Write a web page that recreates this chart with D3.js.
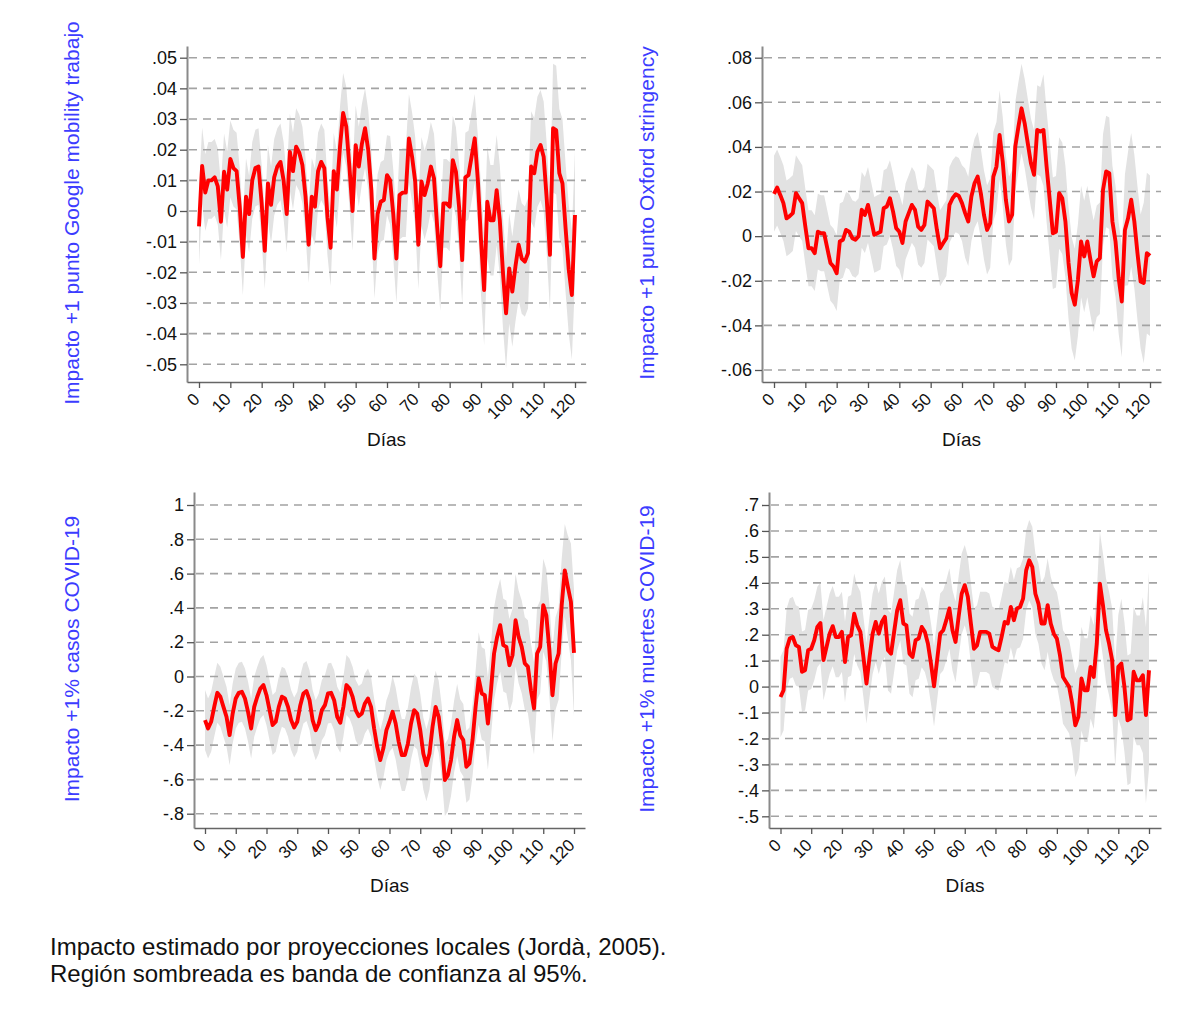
<!DOCTYPE html>
<html><head><meta charset="utf-8">
<script src="https://cdn.jsdelivr.net/npm/d3@7"></script>
<style>body{margin:0;background:#fff}svg{display:block}</style>
</head><body>
<svg id="chart" width="1193" height="1014"></svg>
<script>
// ---------- DATA ----------
const dayTicks = [0,10,20,30,40,50,60,70,80,90,100,110,120];

const mobility = [
-.005,.0147,.006,.010,.010,.011,.008,-.0035,.0128,.007,
.017,.014,.013,.0014,-.015,.0047,-.001,.010,.014,.0145,
.0025,-.013,.009,.002,.011,.0145,.016,.010,-.001,.0193,
.013,.021,.019,.015,.0047,-.011,.0047,.0014,.013,.016,
.014,-.002,-.012,.013,.007,.021,.032,.0275,.0145,0,
.0215,.0145,.022,.027,.020,.007,-.0155,-.001,.003,.0036,
.0117,.010,-.001,-.0155,.0052,.006,.006,.0237,.0177,.0096,
-.011,.0096,.0052,.009,.0145,.0107,-.005,-.018,.0025,.0025,
.0014,.0166,.0128,.0014,-.016,.011,.0117,.0177,.0237,.010,
-.0095,-.0258,.003,-.003,-.003,.0068,-.003,-.020,-.0334,-.0187,
-.0263,-.018,-.011,-.0155,-.0165,-.0138,.0145,.0123,.0193,.0215,
.0177,.0036,-.0143,.027,.0264,.0123,.009,-.0057,-.019,-.0274,
-.0013];
const mobilityHalfWidth = [
.0125,.0125,.0125,.0125,.0125,.0125,.0125,.0125,.0125,.0125,
.0125,.0125,.0125,.0125,.0125,.0125,.0125,.0125,.0125,.0125,
.0125,.0125,.0125,.0125,.0125,.0125,.0125,.0125,.0125,.0125,
.0125,.0125,.0125,.0125,.0125,.0125,.0125,.0125,.0125,.0125,
.0125,.0125,.0125,.0125,.0125,.013,.013,.013,.013,.013,
.013,.013,.013,.013,.013,.013,.013,.013,.013,.013,
.013,.0145,.0145,.0145,.0145,.0145,.0145,.0145,.0145,.0145,
.0145,.0145,.0145,.0145,.0145,.0145,.0145,.0145,.0145,.0145,
.0145,.0145,.0145,.0145,.0145,.0145,.0145,.0145,.0145,.0145,
.018,.018,.018,.018,.018,.018,.018,.018,.018,.018,
.018,.018,.018,.018,.018,.018,.018,.018,.018,.018,
.018,.018,.018,.021,.021,.021,.021,.021,.021,.021,
.021];
const mobilityTicks = [-.05,-.04,-.03,-.02,-.01,0,.01,.02,.03,.04,.05];
const mobilityTickLabels = ["-.05","-.04","-.03","-.02","-.01","0",".01",".02",".03",".04",".05"];

const stringency = [
.019,.0218,.0185,.0148,.008,.009,.0103,.0193,.017,.0148,
.0043,-.0054,-.0054,-.0076,.002,.0013,.0013,-.0054,-.012,-.0136,
-.0166,-.0024,-.0016,.0028,.002,-.0009,-.0016,0,.0118,.0095,
.014,.0073,.0006,.0013,.002,.0125,.0133,.017,.011,.0036,
.002,-.0031,.0066,.0103,.014,.0118,.0043,.0028,.005,.0155,
.014,.0125,.0028,-.0054,-.0031,-.0009,.014,.017,.0188,.018,
.0148,.0103,.0066,.0178,.0237,.0267,.0193,.0096,.0028,.0058,
.0267,.0312,.0454,.0334,.0163,.0066,.0096,.0401,.049,.0573,
.0506,.0416,.0327,.0275,.0476,.0469,.0476,.0312,.0163,.0013,
.002,.0193,.017,.0066,-.012,-.0255,-.0307,-.0196,-.0024,-.0091,
-.0024,-.0106,-.018,-.0113,-.0099,.0207,.029,.0282,.0066,-.0024,
-.0188,-.0293,.0028,.008,.0163,.0066,-.0076,-.0203,-.021,-.0076,
-.0088];
const stringencyHalfWidth = [
.017,.017,.017,.017,.017,.017,.017,.017,.017,.017,
.017,.017,.017,.017,.017,.017,.017,.017,.017,.017,
.017,.017,.017,.017,.017,.017,.017,.017,.017,.017,
.017,.017,.017,.017,.017,.017,.017,.017,.017,.017,
.017,.017,.017,.017,.017,.017,.017,.017,.017,.017,
.017,.017,.017,.017,.017,.017,.017,.017,.017,.017,
.017,.02,.02,.02,.02,.02,.02,.02,.02,.02,
.02,.02,.02,.02,.02,.02,.02,.02,.02,.02,
.02,.02,.02,.02,.02,.02,.025,.025,.025,.025,
.025,.025,.025,.025,.025,.025,.025,.025,.025,.025,
.025,.025,.025,.025,.025,.025,.025,.025,.025,.025,
.025,.025,.025,.03,.03,.03,.03,.03,.036,.036,
.036];
const stringencyTicks = [-.06,-.04,-.02,0,.02,.04,.06,.08];
const stringencyTickLabels = ["-.06","-.04","-.02","0",".02",".04",".06",".08"];

const cases = [
-.254,-.303,-.264,-.177,-.095,-.118,-.177,-.235,-.342,-.216,
-.128,-.095,-.089,-.128,-.206,-.303,-.177,-.118,-.070,-.050,
-.109,-.196,-.283,-.264,-.177,-.118,-.128,-.177,-.254,-.297,
-.264,-.167,-.099,-.085,-.138,-.254,-.313,-.274,-.196,-.167,
-.099,-.095,-.138,-.235,-.270,-.177,-.050,-.070,-.118,-.196,
-.231,-.216,-.157,-.128,-.177,-.303,-.410,-.487,-.419,-.313,
-.264,-.206,-.274,-.381,-.458,-.458,-.390,-.274,-.196,-.216,
-.313,-.449,-.517,-.449,-.293,-.177,-.235,-.381,-.604,-.575,
-.487,-.351,-.254,-.342,-.371,-.526,-.507,-.371,-.177,-.012,
-.099,-.109,-.274,-.080,.134,.231,.299,.183,.173,.066,
.124,.328,.231,.173,.076,.058,-.080,-.186,.134,.173,
.416,.357,.153,-.109,.076,.134,.416,.619,.522,.435,
.138];
const casesHalfWidth = [
.175,.175,.175,.175,.175,.175,.175,.175,.175,.175,
.175,.175,.175,.175,.175,.175,.175,.175,.175,.175,
.175,.175,.175,.175,.175,.175,.175,.175,.175,.175,
.175,.175,.175,.175,.175,.175,.175,.175,.175,.175,
.175,.175,.175,.175,.175,.175,.175,.175,.175,.175,
.175,.175,.175,.175,.175,.175,.175,.175,.175,.175,
.175,.21,.21,.21,.21,.21,.21,.21,.21,.21,
.21,.21,.21,.21,.21,.21,.21,.21,.21,.21,
.21,.21,.21,.21,.21,.21,.21,.21,.21,.27,
.27,.27,.27,.27,.27,.27,.27,.27,.27,.27,
.27,.27,.27,.27,.27,.27,.27,.27,.27,.27,
.27,.27,.27,.27,.27,.27,.27,.27,.30,.34,
.37];
const casesTicks = [-.8,-.6,-.4,-.2,0,.2,.4,.6,.8,1];
const casesTickLabels = ["-.8","-.6","-.4","-.2","0",".2",".4",".6",".8","1"];

const deaths = [
-.040,-.014,.146,.185,.191,.159,.153,.057,.063,.140,
.146,.179,.230,.245,.102,.153,.204,.233,.191,.191,
.211,.095,.191,.198,.281,.236,.211,.114,.012,.114,
.204,.249,.204,.249,.269,.140,.127,.211,.294,.333,
.243,.236,.127,.114,.179,.185,.230,.211,.166,.089,
.001,.102,.204,.217,.256,.301,.217,.172,.269,.358,
.391,.346,.243,.146,.159,.211,.211,.211,.204,.153,
.146,.140,.191,.249,.243,.307,.256,.301,.307,.339,
.448,.487,.461,.358,.320,.243,.243,.314,.243,.204,
.185,.121,.037,.018,-.001,-.066,-.149,-.117,.031,-.014,
-.014,.076,.037,.166,.397,.314,.217,.166,.102,-.110,
.076,.089,-.001,-.130,-.123,.057,.024,.024,.044,-.110,
.063];
const deathsHalfWidth = [
.155,.155,.155,.155,.155,.155,.155,.155,.155,.155,
.155,.155,.155,.155,.155,.155,.155,.155,.155,.155,
.155,.155,.155,.155,.155,.155,.155,.155,.155,.155,
.155,.155,.155,.155,.155,.155,.155,.155,.155,.155,
.155,.155,.155,.155,.155,.155,.155,.155,.155,.155,
.155,.155,.155,.155,.155,.155,.155,.155,.155,.155,
.155,.155,.155,.155,.155,.155,.155,.155,.155,.155,
.155,.155,.155,.155,.155,.155,.155,.155,.155,.155,
.155,.155,.155,.155,.155,.155,.18,.18,.18,.18,
.18,.18,.18,.18,.18,.18,.20,.20,.20,.20,
.20,.20,.20,.20,.20,.20,.20,.20,.20,.20,
.20,.25,.25,.25,.25,.25,.25,.25,.30,.34,
.38];
const deathsTicks = [-.5,-.4,-.3,-.2,-.1,0,.1,.2,.3,.4,.5,.6,.7];
const deathsTickLabels = ["-.5","-.4","-.3","-.2","-.1","0",".1",".2",".3",".4",".5",".6",".7"];

const yTitles = ["Impacto +1 punto Google mobility trabajo","Impacto +1 punto Oxford stringency","Impacto +1% casos COVID-19","Impacto +1% muertes COVID-19"];
const xTitle = "Días";
const noteLines = ["Impacto estimado por proyecciones locales (Jordà, 2005).","Región sombreada es banda de confianza al 95%."];

// ---------- LAYOUT ----------
const FONT = "Arial, 'Liberation Sans', sans-serif";
const panels = [
  {values:mobility, hw:mobilityHalfWidth, ticks:mobilityTicks, labels:mobilityTickLabels, title:yTitles[0],
   axisX:187, x0:199, x120:575, right:586, top:46, bottom:382, yA:[.05,57.7], yB:[-.05,364.3], titleX:72},
  {values:stringency, hw:stringencyHalfWidth, ticks:stringencyTicks, labels:stringencyTickLabels, title:yTitles[1],
   axisX:762, x0:774, x120:1150, right:1161, top:46, bottom:382, yA:[.08,57.7], yB:[-.06,370], titleX:647},
  {values:cases, hw:casesHalfWidth, ticks:casesTicks, labels:casesTickLabels, title:yTitles[2],
   axisX:194, x0:205, x120:574, right:585, top:492, bottom:828, yA:[1,505], yB:[-.8,813.7], titleX:72},
  {values:deaths, hw:deathsHalfWidth, ticks:deathsTicks, labels:deathsTickLabels, title:yTitles[3],
   axisX:769, x0:780.5, x120:1149, right:1161, top:492, bottom:828, yA:[.7,505], yB:[-.5,816.3], titleX:647}
];

const svg = d3.select("#chart");
svg.append("rect").attr("width",1193).attr("height",1014).attr("fill","#fff");

panels.forEach(p => {
  const g = svg.append("g");
  const xd = d3.scaleLinear().domain([0,120]).range([p.x0,p.x120]);
  const x = d3.scaleLinear().domain([xd.invert(p.axisX), xd.invert(p.right)]).range([p.axisX,p.right]);
  const yd = d3.scaleLinear().domain([p.yB[0],p.yA[0]]).range([p.yB[1],p.yA[1]]);
  const y = d3.scaleLinear().domain([yd.invert(p.bottom), yd.invert(p.top)]).range([p.bottom,p.top]);

  // confidence band
  const area = d3.area()
    .x((d,i)=>x(i))
    .y0((d,i)=>y(d - p.hw[i]))
    .y1((d,i)=>y(d + p.hw[i]));
  g.append("path").datum(p.values).attr("d",area).attr("fill","#e2e2e2");

  // gridlines
  g.selectAll("line.grid").data(p.ticks).enter().append("line")
    .attr("x1",p.axisX+2).attr("x2",p.right)
    .attr("y1",d=>y(d)).attr("y2",d=>y(d))
    .attr("stroke","#a3a3a3").attr("stroke-width",1.6).attr("stroke-dasharray","8,6");

  // line
  const line = d3.line().x((d,i)=>x(i)).y(d=>y(d));
  g.append("path").datum(p.values).attr("d",line).attr("fill","none")
    .attr("stroke","#ff0000").attr("stroke-width",3.9).attr("stroke-linejoin","round");

  // y axis
  const ya = g.append("g").attr("transform",`translate(${p.axisX},0)`)
    .call(d3.axisLeft(y).tickValues(p.ticks).tickFormat((d,i)=>p.labels[i]).tickSize(7).tickSizeOuter(0).tickPadding(3));
  ya.select(".domain").attr("stroke","#8a8a8a").attr("stroke-width",2);
  ya.selectAll(".tick line").attr("stroke","#555").attr("stroke-width",1.3);
  ya.selectAll(".tick text").attr("font-family",FONT).attr("font-size",18).attr("fill","#111");

  // x axis
  const xa = g.append("g").attr("transform",`translate(0,${p.bottom})`)
    .call(d3.axisBottom(x).tickValues(dayTicks).tickFormat(d3.format("d")).tickSize(6).tickSizeOuter(0));
  xa.select(".domain").attr("stroke","#666").attr("stroke-width",1.3);
  xa.selectAll(".tick line").attr("stroke","#555").attr("stroke-width",1.3);
  xa.selectAll(".tick text").attr("font-family",FONT).attr("font-size",17).attr("fill","#111")
    .attr("y",null).attr("dy","0.35em").attr("text-anchor","end")
    .attr("transform","translate(-3,14) rotate(-45)");

  // x title
  g.append("text").attr("x",(p.axisX+p.right)/2).attr("y",p.bottom+64)
    .attr("text-anchor","middle").attr("font-family",FONT).attr("font-size",19).attr("fill","#111").text(xTitle);

  // y title
  g.append("text").attr("transform",`translate(${p.titleX},${(p.top+p.bottom)/2 - 1}) rotate(-90)`)
    .attr("text-anchor","middle").attr("dy","0.35em").attr("font-family",FONT).attr("font-size",21)
    .attr("fill","#3c3cff").text(p.title);
});

// note
svg.append("text").attr("font-family",FONT).attr("font-size",24).attr("fill","#111")
  .selectAll("tspan").data(noteLines).enter().append("tspan")
  .attr("x",50).attr("y",(d,i)=>955 + i*27).text(d=>d);
</script>
</body></html>
